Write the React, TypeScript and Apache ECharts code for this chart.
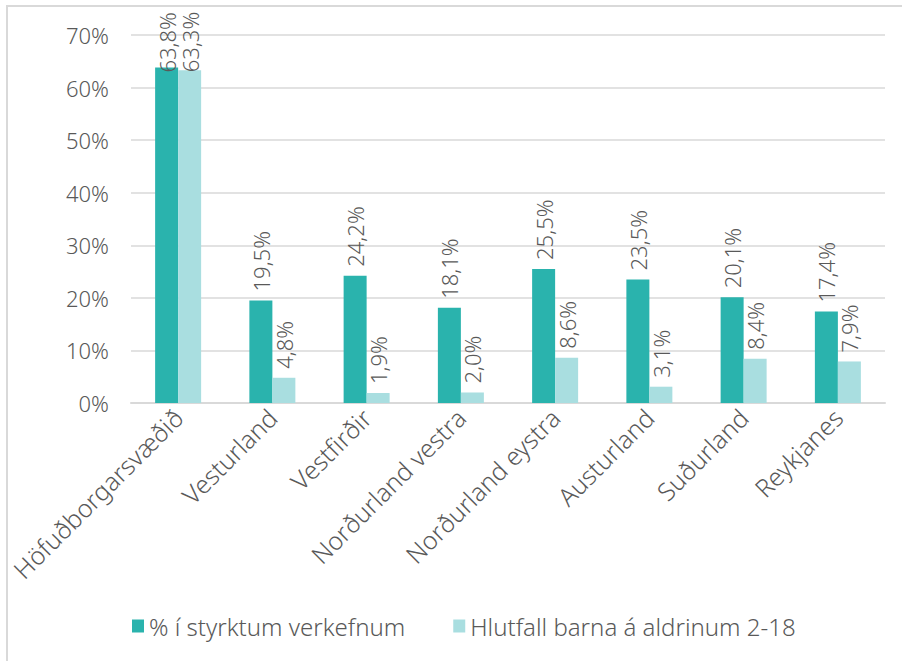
import React, { useEffect, useRef } from "react";
import * as echarts from "echarts";

const categories = [
  "Höfuðborgarsvæðið",
  "Vesturland",
  "Vestfirðir",
  "Norðurland vestra",
  "Norðurland eystra",
  "Austurland",
  "Suðurland",
  "Reykjanes",
];
const seriesNames = ["% í styrktum verkefnum", "Hlutfall barna á aldrinum 2-18"];
const styrkt = [63.8, 19.5, 24.2, 18.1, 25.5, 23.5, 20.1, 17.4];
const hlutfall = [63.3, 4.8, 1.9, 2.0, 8.6, 3.1, 8.4, 7.9];

const FONT = "'Noto Sans', 'Open Sans', sans-serif";
const TXT = "#595959";

const fmt = (v: number) => v.toFixed(1).replace(".", ",") + "%";

export default function App() {
  const ref = useRef<HTMLDivElement>(null);
  useEffect(() => {
    document.body.style.margin = "0";
    const chart = echarts.init(ref.current!, undefined, { renderer: "svg" });
    const mk = (vals: number[], idx: number) =>
      vals.map((v, i) =>
        i === 0
          ? { value: v, label: { distance: idx === 0 ? -5 : -2 } }
          : { value: v }
      );
    const labelCfg = {
      show: true,
      position: "top",
      rotate: 90,
      align: "left",
      verticalAlign: "middle",
      distance: 9,
      color: TXT,
      fontFamily: FONT,
      fontSize: 22,
      fontWeight: 300,
      formatter: (p: any) => fmt(p.value),
    };
    chart.setOption({
      animation: false,
      textStyle: { fontFamily: FONT },
      graphic: [
        {
          type: "rect",
          shape: { x: 7, y: 6, width: 900, height: 670 },
          style: { fill: "none", stroke: "#d9d9d9", lineWidth: 2 },
          silent: true,
        },
      ],
      grid: { left: 131, right: 17, top: 35, bottom: 258, containLabel: false },
      legend: {
        left: 127,
        top: 609,
        itemWidth: 12,
        itemHeight: 13,
        itemGap: 48,
        icon: "rect",
        textStyle: { color: TXT, fontFamily: FONT, fontSize: 24, fontWeight: 300 },
        data: seriesNames,
      },
      xAxis: {
        type: "category",
        data: categories,
        axisLine: { lineStyle: { color: "#d9d9d9", width: 2 } },
        axisTick: { show: false },
        axisLabel: {
          rotate: 45,
          interval: 0,
          margin: 10,
          color: TXT,
          fontFamily: FONT,
          fontSize: 25,
          fontWeight: 300,
        },
      },
      yAxis: {
        type: "value",
        min: 0,
        max: 70,
        interval: 10,
        axisLine: { show: false },
        axisTick: { show: false },
        splitLine: { lineStyle: { color: "#d9d9d9", width: 1.5 } },
        axisLabel: {
          formatter: "{value}%",
          margin: 22,
          color: TXT,
          fontFamily: FONT,
          fontSize: 22,
          fontWeight: 300,
        },
      },
      series: [
        {
          name: seriesNames[0],
          type: "bar",
          data: mk(styrkt, 0),
          barWidth: 23,
          barGap: "0%",
          itemStyle: { color: "#2AB3AD" },
          label: labelCfg,
        },
        {
          name: seriesNames[1],
          type: "bar",
          data: mk(hlutfall, 1),
          barWidth: 23,
          barGap: "0%",
          itemStyle: { color: "#A9DEE0" },
          label: labelCfg,
        },
      ],
    });
    return () => chart.dispose();
  }, []);
  return <div ref={ref} style={{ width: 902, height: 661 }} />;
}
